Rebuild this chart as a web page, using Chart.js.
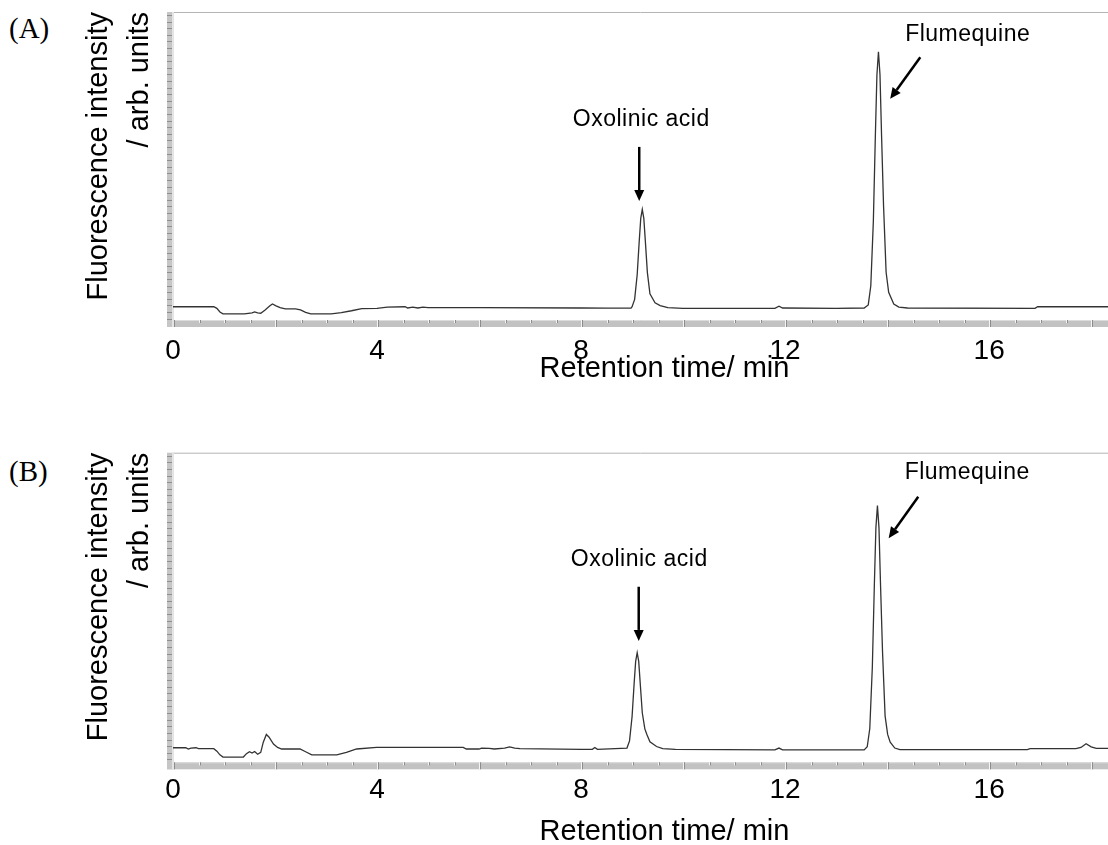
<!DOCTYPE html>
<html>
<head>
<meta charset="utf-8">
<script src="https://cdn.jsdelivr.net/npm/chart.js@4.4.1/dist/chart.umd.min.js"></script>
<style>
  html, body { margin: 0; padding: 0; background: #fff; }
  body { width: 1108px; height: 845px; position: relative; overflow: hidden; }
  .panel { position: absolute; left: 0; }
  .tag { position: absolute; left: 9px; font: 29px "Liberation Serif", "Times New Roman", serif; line-height: 1; color: #000; }
</style>
</head>
<body>
<div class="tag" style="top:14px">(A)</div>
<div class="tag" style="top:457px">(B)</div>
<canvas id="chartA" class="panel" width="1108" height="386" style="top:0"></canvas>
<canvas id="chartB" class="panel" width="1108" height="405" style="top:440px"></canvas>
<script>
const xTicks = [0, 4, 8, 12, 16];
const xMax = 18.33;

// chromatogram (A), retention time in min / signal in arb. units
const timeA = [0, 0.8, 0.86, 0.92, 0.98, 1.4, 1.55, 1.6, 1.66, 1.72, 1.8, 1.9, 1.95, 2.02, 2.1, 2.2, 2.4, 2.5, 2.6, 2.7,
  3.1, 3.3, 3.5, 3.7, 4.0, 4.2, 4.55, 4.6, 4.7, 4.8, 4.9, 5.0, 6.0, 8.0, 8.5, 8.98,
  9.0, 9.05, 9.1, 9.14, 9.17, 9.2, 9.23, 9.26, 9.3, 9.35, 9.45, 9.55, 9.7, 10.0,
  11.8, 11.88, 11.95, 13.0, 13.55,
  13.63, 13.68, 13.73, 13.77, 13.8, 13.83, 13.86, 13.89, 13.93, 13.98, 14.03, 14.13, 14.23, 14.4,
  16.9, 16.95, 18.33];
const signalA = [4.3, 4.3, 3.8, 2.6, 2.0, 2.0, 2.3, 2.6, 2.3, 2.2, 3.2, 4.6, 5.2, 4.6, 4.0, 3.6, 3.6, 3.3, 2.5, 2.0,
  2.0, 2.4, 3.0, 3.7, 3.8, 4.2, 4.3, 3.9, 4.2, 3.9, 4.2, 4.0, 4.0, 3.9, 3.85, 3.85,
  4.3, 6.7, 14.7, 25.6, 33.0, 35.9, 33.0, 25.6, 15.4, 8.5, 5.6, 4.7, 4.0, 3.8,
  3.8, 4.5, 3.9, 3.8, 3.9,
  4.9, 11.1, 32.1, 60.4, 79.6, 87.1, 79.6, 60.4, 37.0, 15.5, 9.0, 5.2, 4.2, 3.9,
  3.8, 4.3, 4.3];

// chromatogram (B)
const timeB = [0, 0.25, 0.3, 0.35, 0.45, 0.5, 0.8, 0.86, 0.92, 0.98, 1.38, 1.44, 1.5, 1.55, 1.6, 1.66, 1.72, 1.77, 1.83, 1.88,
  1.97, 2.05, 2.13, 2.49, 2.6, 2.72, 3.21, 3.4, 3.6, 3.99, 5.69, 5.75, 6.0, 6.05, 6.2, 6.3, 6.5, 6.6, 6.7, 6.8,
  8.0, 8.22, 8.27, 8.32, 8.9,
  8.95, 9.0, 9.04, 9.07, 9.1, 9.13, 9.16, 9.2, 9.25, 9.29, 9.35, 9.48, 9.6, 9.85,
  11.8, 11.88, 11.95, 13.55,
  13.61, 13.66, 13.71, 13.75, 13.78, 13.81, 13.84, 13.87, 13.91, 13.96, 14.01, 14.06, 14.15, 14.25,
  16.75, 16.8, 17.7, 17.8, 17.9, 18.0, 18.1, 18.33];
const signalB = [4.7, 4.7, 4.3, 4.6, 4.7, 4.4, 4.4, 3.6, 2.4, 1.7, 1.7, 2.8, 3.4, 3.0, 3.5, 2.6, 3.2, 6.5, 9.0, 8.2,
  5.9, 4.8, 4.3, 4.3, 3.4, 2.4, 2.4, 3.2, 4.3, 4.8, 4.8, 4.3, 4.3, 4.6, 4.5, 4.3, 4.6, 5.0, 4.6, 4.4,
  4.2, 4.2, 4.8, 4.2, 4.6,
  6.9, 14.8, 25.4, 32.6, 35.4, 32.6, 25.4, 16.0, 10.8, 9.0, 6.6, 5.1, 4.4, 4.2,
  4.0, 4.6, 4.0, 4.0,
  5.0, 10.9, 30.8, 57.7, 75.8, 82.9, 75.8, 57.7, 35.6, 15.0, 9.0, 6.5, 4.6, 4.1,
  4.1, 4.4, 4.4, 4.8, 6.0, 5.0, 4.5, 4.5];

const peakNames = ['Oxolinic acid', 'Flumequine'];
const xTitle = 'Retention time/ min';

// where the peak labels and arrows sit, in data units (min, signal)
const notesA = [
  { text: peakNames[0], at: [9.18, 64.9], from: [9.14, 56.2], to: [9.14, 38.6] },
  { text: peakNames[1], at: [15.58, 92.7], from: [14.65, 85.3], to: [14.06, 71.8] }
];
const notesB = [
  { text: peakNames[0], at: [9.14, 65.3], from: [9.13, 56.7], to: [9.13, 39.2] },
  { text: peakNames[1], at: [15.57, 93.4], from: [14.61, 85.8], to: [14.03, 72.4] }
];

const sans = '"Liberation Sans", Arial, sans-serif';

function makeDecor(notes, titleGap) {
  return {
    id: 'chromDecor',
    beforeDatasetsDraw(chart) {
      const { ctx, chartArea: a, scales: { x } } = chart;
      const sh = 7;
      ctx.save();
      ctx.lineWidth = 1;
      // top frame line
      ctx.strokeStyle = '#b4b4b4';
      ctx.beginPath();
      ctx.moveTo(a.left, a.top + 0.5);
      ctx.lineTo(a.right, a.top + 0.5);
      ctx.stroke();
      // time strip under the plot
      ctx.fillStyle = '#c2c2c2';
      ctx.fillRect(a.left - 6, a.bottom, a.right - a.left + 6, sh);
      ctx.strokeStyle = '#dcdcdc';
      ctx.beginPath();
      ctx.moveTo(a.left, a.bottom + 0.5);
      ctx.lineTo(a.right, a.bottom + 0.5);
      ctx.stroke();
      for (let t = 0; t <= x.max; t += 0.5) {
        const px = Math.round(x.getPixelForValue(t)) + 0.5;
        const major = Math.abs(t / 2 - Math.round(t / 2)) < 1e-6;
        const len = major ? sh : 3;
        ctx.strokeStyle = '#f4f4f4';
        ctx.beginPath();
        ctx.moveTo(px, a.bottom);
        ctx.lineTo(px, a.bottom + len);
        ctx.stroke();
        ctx.strokeStyle = '#8c8c8c';
        ctx.beginPath();
        ctx.moveTo(px + 1, a.bottom);
        ctx.lineTo(px + 1, a.bottom + len);
        ctx.stroke();
      }
      // intensity strip on the left
      ctx.fillStyle = '#c6c6c6';
      ctx.fillRect(a.left - 6, a.top, 6, a.bottom - a.top + sh);
      ctx.strokeStyle = '#8e8e8e';
      for (let py = a.top + 3; py < a.bottom; py += 6.6) {
        const yy = Math.round(py) + 0.5;
        ctx.beginPath();
        ctx.moveTo(a.left - 6, yy);
        ctx.lineTo(a.left - 1, yy);
        ctx.stroke();
      }
      ctx.fillStyle = '#e4e4e4';
      ctx.fillRect(a.left - 1, a.top, 2, a.bottom - a.top + sh);
      ctx.restore();
    },
    afterDatasetsDraw(chart) {
      const { ctx, chartArea: a, scales: { x, y } } = chart;
      ctx.save();
      ctx.fillStyle = '#000';
      ctx.strokeStyle = '#000';
      // axis title, sits a bit right of the plot centre in the original
      ctx.font = '29px ' + sans;
      ctx.textAlign = 'center';
      ctx.textBaseline = 'middle';
      ctx.fillText(xTitle, (a.left + a.right) / 2 + 24, a.bottom + titleGap);

      ctx.font = '23px ' + sans;
      ctx.letterSpacing = '0.5px';
      notes.forEach(n => {
        ctx.fillText(n.text, x.getPixelForValue(n.at[0]), y.getPixelForValue(n.at[1]));
        const x0 = x.getPixelForValue(n.from[0]), y0 = y.getPixelForValue(n.from[1]);
        const x1 = x.getPixelForValue(n.to[0]), y1 = y.getPixelForValue(n.to[1]);
        const ang = Math.atan2(y1 - y0, x1 - x0);
        const head = 11, half = 5;
        const bx = x1 - head * Math.cos(ang), by = y1 - head * Math.sin(ang);
        ctx.lineWidth = 2.5;
        ctx.beginPath();
        ctx.moveTo(x0, y0);
        ctx.lineTo(bx, by);
        ctx.stroke();
        ctx.beginPath();
        ctx.moveTo(x1, y1);
        ctx.lineTo(bx + half * Math.sin(ang), by - half * Math.cos(ang));
        ctx.lineTo(bx - half * Math.sin(ang), by + half * Math.cos(ang));
        ctx.closePath();
        ctx.fill();
      });
      ctx.restore();
    }
  };
}

function makeChart(id, times, signal, notes, geo) {
  const ctx = document.getElementById(id).getContext('2d');
  return new Chart(ctx, {
    type: 'line',
    data: {
      datasets: [{
        data: times.map((t, i) => ({ x: t, y: signal[i] })),
        borderColor: '#333333',
        borderWidth: 1.3,
        pointRadius: 0,
        tension: 0,
        fill: false
      }]
    },
    options: {
      responsive: false,
      animation: false,
      devicePixelRatio: 1,
      layout: { padding: { left: 79, top: geo.top, right: 0, bottom: 0 } },
      plugins: { legend: { display: false }, tooltip: { enabled: false } },
      scales: {
        x: {
          type: 'linear',
          min: 0,
          max: xMax,
          grid: { display: false, drawTicks: false },
          border: { display: false },
          afterBuildTicks: s => { s.ticks = xTicks.map(v => ({ value: v })); },
          afterFit: s => { s.height = geo.xHeight; },
          ticks: { color: '#000', padding: geo.tickPad, maxRotation: 0, font: { family: sans, size: 28 } },
          title: { display: false }
        },
        y: {
          min: 0,
          max: 100,
          grid: { display: false, drawTicks: false },
          border: { display: false },
          ticks: { display: false },
          afterFit: s => { s.width = 94; },
          title: {
            display: true,
            align: 'end',
            text: ['Fluorescence intensity', '/ arb. units'],
            color: '#000',
            padding: 0,
            font: { family: sans, size: 29, lineHeight: 1.4 }
          }
        }
      }
    },
    plugins: [makeDecor(notes, geo.titleGap)]
  });
}

makeChart('chartA', timeA, signalA, notesA, { top: 12, xHeight: 66, tickPad: 14, titleGap: 49 });
makeChart('chartB', timeB, signalB, notesB, { top: 12.7, xHeight: 82.7, tickPad: 11, titleGap: 70 });
</script>
</body>
</html>
